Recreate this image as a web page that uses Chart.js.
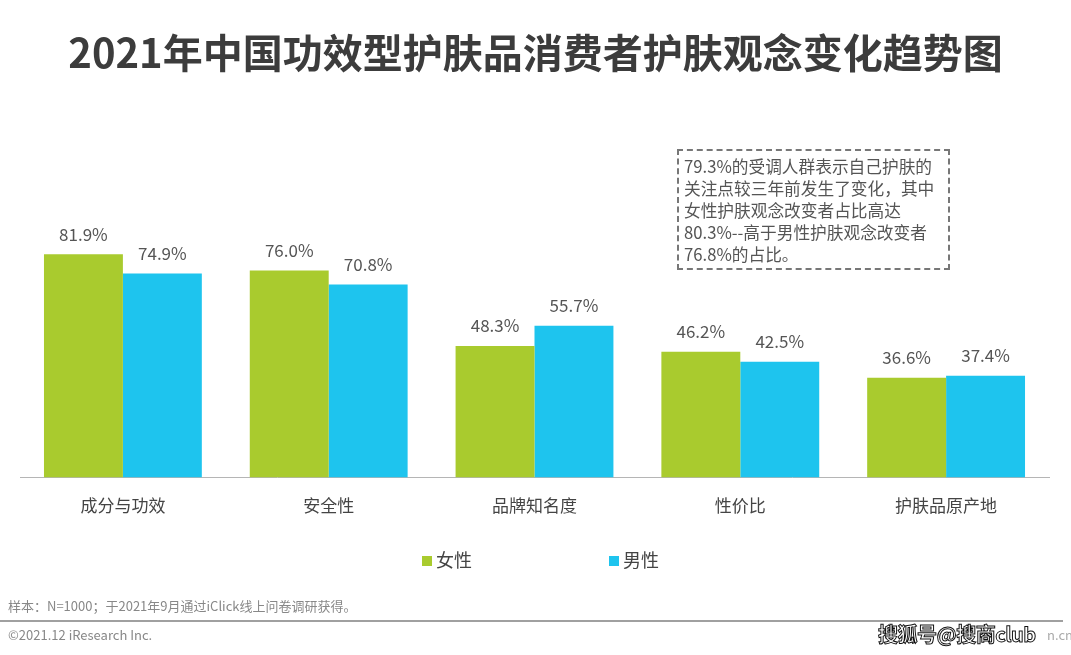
<!DOCTYPE html>
<html>
<head>
<meta charset="utf-8">
<script src="https://cdn.jsdelivr.net/npm/chart.js@4/dist/chart.umd.min.js"></script>
<style>
  body { margin: 0; background: #fff; font-family: "Noto Sans CJK SC", "Noto Sans", sans-serif; }
  #wrap { position: relative; width: 1071px; height: 655px; overflow: hidden; background: #fff; }
  #myChart { position: absolute; left: 0; top: 0; }
  #title { position: absolute; left: 0; width: 1071px; top: 23px; text-align: center;
    font-size: 40px; font-weight: 700; color: #3c3c3c; line-height: 56px; }
  #note { position: absolute; left: 677px; top: 149px; width: 273px; height: 121px;
    border: 2px dashed #777; font-size: 16.7px; line-height: 22px; color: #555;
    padding: 4px 0 0 5px; box-sizing: border-box; white-space: nowrap; }
  .leg { position: absolute; top: 547px; font-size: 18px; color: #444; line-height: 24px; }
  .leg i { display: inline-block; width: 10px; height: 10px; margin-right: 4px; vertical-align: 1px; }
  #sample { position: absolute; left: 8px; top: 596px; font-size: 13px; color: #888; }
  #rule { position: absolute; left: 0; top: 620px; width: 1063px; height: 0; border-top: 2px solid #a0a0a0; }
  #copy { position: absolute; left: 8px; top: 625px; font-size: 13px; color: #888; }
  #wm { position: absolute; left: 878px; top: 619px; font-size: 20px; font-weight: 700; color: #fff;
    -webkit-text-stroke: 1px #111; letter-spacing: -0.5px; }
  #wm2 { position: absolute; left: 1047px; top: 625px; font-size: 13px; color: #aaa; }
</style>
</head>
<body>
<div id="wrap">
  <canvas id="myChart" width="1071" height="655"></canvas>
  <div id="title">2021年中国功效型护肤品消费者护肤观念变化趋势图</div>
  <div id="note">79.3%的受调人群表示自己护肤的<br>关注点较三年前发生了变化，其中<br>女性护肤观念改变者占比高达<br>80.3%--高于男性护肤观念改变者<br>76.8%的占比。</div>
  <div class="leg" style="left:422px"><i style="background:#a9cb2e"></i>女性</div>
  <div class="leg" style="left:609px"><i style="background:#1ec4ee"></i>男性</div>
  <div id="sample">样本：N=1000；于2021年9月通过iClick线上问卷调研获得。</div>
  <div id="rule"></div>
  <div id="copy">©2021.12 iResearch Inc.</div>
  <div id="wm2">n.cn</div>
  <div id="wm">搜狐号@搜商club</div>
</div>
<script>
var categories = ["成分与功效", "安全性", "品牌知名度", "性价比", "护肤品原产地"];
var femaleValues = [81.9, 76.0, 48.3, 46.2, 36.6];
var maleValues = [74.9, 70.8, 55.7, 42.5, 37.4];
var seriesNames = ["女性", "男性"];

var ctx = document.getElementById("myChart").getContext('2d');

// numbers above each bar
var valueLabels = {
  id: 'valueLabels',
  afterDatasetsDraw: function(chart) {
    var c = chart.ctx;
    c.save();
    c.font = '17px "Noto Sans CJK SC", "Noto Sans", sans-serif';
    c.fillStyle = '#555';
    c.textAlign = 'center';
    c.textBaseline = 'middle';
    chart.data.datasets.forEach(function(ds, i) {
      chart.getDatasetMeta(i).data.forEach(function(bar, j) {
        c.fillText(ds.data[j].toFixed(1) + '%', bar.x, bar.y - 20);
      });
    });
    c.restore();
  }
};

var myChart = new Chart(ctx, {
  type: 'bar',
  data: {
    labels: categories,
    datasets: [
      { label: seriesNames[0], data: femaleValues, backgroundColor: "#a9cb2e" },
      { label: seriesNames[1], data: maleValues, backgroundColor: "#1ec4ee" }
    ]
  },
  options: {
    responsive: false,
    animation: false,
    layout: { padding: { left: 20, right: 22, top: 205, bottom: 129 } },
    datasets: { bar: { categoryPercentage: 0.767, barPercentage: 1.0 } },
    plugins: { legend: { display: false }, tooltip: { enabled: false } },
    scales: {
      x: {
        grid: { display: false },
        border: { display: true, color: '#b5b5b5', width: 1 },
        ticks: { color: '#444', padding: 10, font: { size: 17, family: '"Noto Sans CJK SC", "Noto Sans", sans-serif' } }
      },
      y: { display: false, min: 0, max: 100 }
    }
  },
  plugins: [valueLabels]
});
</script>
</body>
</html>
